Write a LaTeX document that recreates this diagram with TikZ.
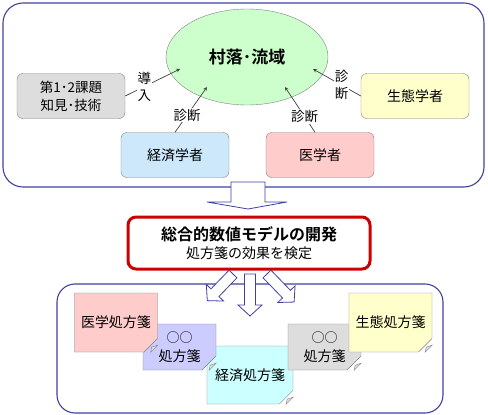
\documentclass[tikz,border=0pt]{standalone}
\usepackage{fontspec}
\setmainfont{Noto Sans CJK JP}[BoldFont={Noto Sans CJK JP Bold}]
\usetikzlibrary{shapes.geometric,shapes.misc}
\definecolor{framecol}{RGB}{64,64,160}
\definecolor{villagegreen}{RGB}{204,255,204}
\definecolor{litgray}{RGB}{221,221,221}
\definecolor{ecoyellow}{RGB}{255,255,204}
\definecolor{econblue}{RGB}{204,232,250}
\definecolor{medpink}{RGB}{255,204,204}
\definecolor{rxlavender}{RGB}{204,204,255}
\definecolor{rxcyan}{RGB}{204,255,255}
\definecolor{modelred}{RGB}{204,0,0}
\newcommand\foldcorner[1]{%
  \filldraw[draw=gray,fill=black!12] ([xshift=-7pt]#1.east |- #1.south) -- ([yshift=7pt]#1.east |- #1.south) -- ([xshift=-6pt,yshift=5pt]#1.east |- #1.south) -- cycle;}
\begin{document}
\begin{tikzpicture}[>=stealth,x=1pt,y=-1pt,
	frame/.style={draw=framecol,line width=1.1pt,rounded corners=20pt},
	box/.style={draw=gray,rounded corners=6pt,minimum width=108pt,minimum height=45pt,inner sep=0pt,align=center,font=\fontsize{14}{18}\selectfont},
	conn/.style={->,draw=black!75,line width=0.7pt},
	lbl/.style={fill=white,inner sep=1pt,align=center,font=\fontsize{13.5}{17}\selectfont},
	note/.style={chamfered rectangle,chamfered rectangle corners=south east,chamfered rectangle xsep=7pt,chamfered rectangle ysep=7pt,draw=gray,inner sep=0pt,align=center,font=\fontsize{14}{19}\selectfont},
	harrow/.style={draw=framecol,fill=white,line width=0.8pt}]
	\useasboundingbox (0,0) rectangle (488,415);
	% upper part
	\draw[frame] (3,3) rectangle (484,187);
	\node[ellipse,draw=gray,fill=villagegreen,minimum width=162pt,minimum height=96pt,font=\bfseries\fontsize{17}{20}\selectfont] (village) at (247,57) {村落･流域};
	\node[box,fill=litgray,font=\fontsize{13.5}{18}\selectfont] (lit) at (71,96) {第1･2課題\\知見･技術};
	\node[box,fill=ecoyellow] (ecol) at (415,96) {生態学者};
	\node[box,fill=econblue] (econ) at (175,155) {経済学者};
	\node[box,fill=medpink] (med) at (320,155) {医学者};
	\coordinate (t1) at (180,69);
	\coordinate (t2) at (207,87);
	\coordinate (t3) at (285,87);
	\coordinate (t4) at (313,69);
	\draw[conn] (lit.east) -- node[pos=0.35,lbl] {導\\入} (t1);
	\draw[conn] (econ.north) -- node[pos=0.38,lbl] {診断} (t2);
	\draw[conn] ([xshift=-5pt]med.north) -- node[pos=0.35,lbl] {診断} (t3);
	\draw[conn] (ecol.west) -- node[pos=0.4,lbl] {診\\断} (t4);
	% big arrow
	\draw[harrow] (231,182) -- (265,182) -- (265,202) -- (287,202) -- (248,209) -- (207,202) -- (231,202) -- cycle;
	\node[draw=modelred,line width=3pt,rounded corners=8pt,fill=white,minimum width=242pt,minimum height=52pt,align=center,font=\fontsize{14}{18}\selectfont] (model) at (249,243) {{\bfseries\fontsize{16}{18}\selectfont 総合的数値モデルの開発}\\処方箋の効果を検定};
	% lower part
	\draw[frame,rounded corners=18pt] (57,284) rectangle (443,413);
	\foreach \ang/\px/\len in {-44/233/37,0/250/42,44/267/39}
		\draw[harrow,shift={(\px,274)},rotate=\ang] (-5.5,0) -- (-5.5,\len-11) -- (-12,\len-11) -- (0,\len) -- (12,\len-11) -- (5.5,\len-11) -- (5.5,0) -- cycle;
	\node[note,fill=rxcyan,minimum width=86pt,minimum height=58pt] (econrx) at (250,375) {経済処方箋};
	\foldcorner{econrx}
	\node[note,fill=rxlavender,minimum width=73pt,minimum height=46pt] (otherrxa) at (179.5,347) {{\fontsize{13}{19}\selectfont ○○}\\処方箋};
	\foldcorner{otherrxa}
	\node[note,fill=medpink,minimum width=82pt,minimum height=59pt] (medrx) at (116,322.5) {医学処方箋};
	\foldcorner{medrx}
	\node[note,fill=litgray,minimum width=73pt,minimum height=46pt] (otherrxb) at (324.5,347) {{\fontsize{13}{19}\selectfont ○○}\\処方箋};
	\foldcorner{otherrxb}
	\node[note,fill=ecoyellow,minimum width=77pt,minimum height=59pt] (ecolrx) at (390.5,322.5) {生態処方箋};
	\foldcorner{ecolrx}
\end{tikzpicture}
\end{document}
